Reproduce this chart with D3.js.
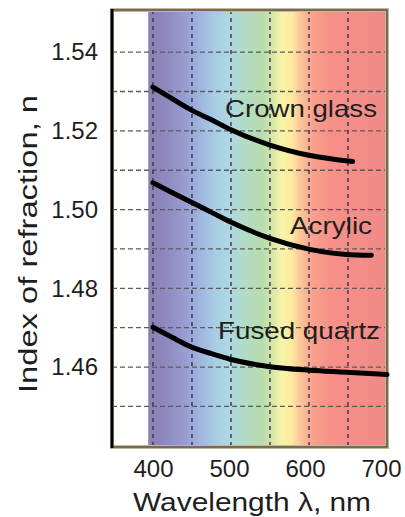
<!DOCTYPE html>
<html lang="en">
<head>
<meta charset="utf-8">
<title>Index of refraction</title>
<script src="https://cdn.jsdelivr.net/npm/d3@7"></script>
<style>
  body {margin: 0; background: #fff;}
  text {font-family: "Liberation Sans", Arial, sans-serif; fill: #1e1e1e;}
  .gridY line {stroke: #5c5c5c; stroke-width: 1.3px; stroke-dasharray: 5,3;}
  .gridX line {stroke: #34344a; stroke-width: 1.4px; stroke-dasharray: 4,4;}
  .courbe {fill: none; stroke: #000; stroke-width: 5px; stroke-linecap: round; stroke-linejoin: round;}
  .ticks text {font-size: 24px;}
  .etiquette {font-size: 24px;}
  .titre {font-size: 25px;}
</style>
</head>
<body>
<svg width="405" height="517"></svg>
<script>

// wavelength (nm) and index n
const crownNm  = [400, 425, 450, 475, 500, 550, 600, 656];
const crownN   = [1.5311, 1.5281, 1.5252, 1.5228, 1.5203, 1.5164, 1.5138, 1.5122];
const acrylNm  = [400, 425, 448, 475, 499, 550, 601, 648, 680];
const acrylN   = [1.5068, 1.5043, 1.5020, 1.4993, 1.4969, 1.4927, 1.4899, 1.4886, 1.4884];
const quartzNm = [400, 425, 448, 475, 499, 550, 601, 648, 700];
const quartzN  = [1.4701, 1.4675, 1.4652, 1.4634, 1.4620, 1.4601, 1.4592, 1.4587, 1.4581];

const xTicks = [400, 500, 600, 700];
const yTicks = [1.46, 1.48, 1.50, 1.52, 1.54];
const xGrid  = [400, 450, 500, 550, 600, 650];
const yGrid  = [1.45, 1.46, 1.47, 1.48, 1.49, 1.50, 1.51, 1.52, 1.53, 1.54];

// colour band of the visible spectrum
const spectreNm  = [394, 415, 441, 460, 479, 499, 518, 540, 553, 565, 578, 588, 604, 627, 700];
const spectreCol = ["#8a80b3", "#8e88bd", "#979dd2", "#a0b4de", "#a8cce6", "#aed8df", "#b2dcc4",
                    "#b8dcae", "#d6e7a8", "#f6f4a8", "#fdeaa0", "#fcc898", "#f8a28e", "#f79088", "#ef8a88"];

const svg = d3.select("svg");

const x = d3.scaleLinear().domain([347.5, 700]).range([112, 387]);
const y = d3.scaleLinear().domain([1.4397, 1.5507]).range([447, 10]);
// the tick labels sit a little tighter than the grid in the original
const xLabel = d3.scaleLinear().domain([400, 700]).range([153, 381]);

// spectrum gradient
const grad = svg.append("defs").append("linearGradient")
  .attr("id", "spectre")
  .attr("gradientUnits", "userSpaceOnUse")
  .attr("x1", x(spectreNm[0])).attr("x2", x(700))
  .attr("y1", 0).attr("y2", 0);

grad.selectAll("stop")
  .data(spectreNm)
  .enter().append("stop")
    .attr("offset", d => (x(d) - x(spectreNm[0])) / (x(700) - x(spectreNm[0])))
    .attr("stop-color", (d, i) => spectreCol[i]);

svg.append("rect")
  .attr("x", x(spectreNm[0]))
  .attr("y", y.range()[1])
  .attr("width", x(700) - x(spectreNm[0]))
  .attr("height", y.range()[0] - y.range()[1])
  .style("fill", "url(#spectre)");

// grid
svg.append("g")
  .classed("gridY", true)
  .selectAll("line")
  .data(yGrid)
  .enter().append("line")
    .attr("x1", x.range()[0]).attr("x2", x.range()[1])
    .attr("y1", d => y(d)).attr("y2", d => y(d));

svg.append("g")
  .classed("gridX", true)
  .selectAll("line")
  .data(xGrid)
  .enter().append("line")
    .attr("x1", d => x(d)).attr("x2", d => x(d))
    .attr("y1", y.range()[1]).attr("y2", y.range()[0]);

// frame
svg.append("rect")
  .attr("x", 112).attr("y", 10)
  .attr("width", 275).attr("height", 437)
  .style("fill", "none").style("stroke", "#c6b696").style("stroke-width", 4);
svg.append("rect")
  .attr("x", 112).attr("y", 10)
  .attr("width", 275).attr("height", 437)
  .style("fill", "none").style("stroke", "#5a5448").style("stroke-width", 1.5);
svg.append("line")
  .attr("x1", 112).attr("x2", 112)
  .attr("y1", 9).attr("y2", 448)
  .style("stroke", "#000").style("stroke-width", 3);

// curves
const ligne = d3.line()
  .x(d => x(d[0]))
  .y(d => y(d[1]))
  .curve(d3.curveMonotoneX);

[[crownNm, crownN], [acrylNm, acrylN], [quartzNm, quartzN]].forEach(function (s) {
  svg.append("path")
    .classed("courbe", true)
    .attr("d", ligne(d3.zip(s[0], s[1])));
});

// axes (labels only)
const axeY = d3.axisLeft(y).tickValues(yTicks).tickSize(0).tickPadding(14).tickFormat(d3.format(".2f"));
svg.append("g")
  .classed("ticks", true)
  .attr("transform", "translate(112,0)")
  .call(axeY)
  .call(g => g.select(".domain").remove());

const axeX = d3.axisBottom(xLabel).tickValues(xTicks).tickSize(0).tickPadding(13);
svg.append("g")
  .classed("ticks", true)
  .attr("transform", "translate(0,447)")
  .call(axeX)
  .call(g => g.select(".domain").remove());

svg.selectAll(".ticks").attr("font-family", null).attr("font-size", null);

// curve names
const noms = [
  {t: "Crown glass", x: 225, y: 117, w: 152},
  {t: "Acrylic", x: 290, y: 234, w: 82},
  {t: "Fused quartz", x: 218, y: 339, w: 162}
];
svg.selectAll("text.etiquette")
  .data(noms)
  .enter().append("text")
    .classed("etiquette", true)
    .attr("x", d => d.x)
    .attr("y", d => d.y)
    .attr("textLength", d => d.w)
    .attr("lengthAdjust", "spacingAndGlyphs")
    .text(d => d.t);

// axis titles
svg.append("text")
  .classed("titre", true)
  .attr("x", 133).attr("y", 511)
  .attr("textLength", 238)
  .attr("lengthAdjust", "spacingAndGlyphs")
  .text("Wavelength  \u03bb,  nm");

svg.append("text")
  .classed("titre", true)
  .attr("transform", "translate(37,244) rotate(-90)")
  .style("text-anchor", "middle")
  .attr("textLength", 298)
  .attr("lengthAdjust", "spacingAndGlyphs")
  .text("Index of refraction, n");
</script>
</body>
</html>
